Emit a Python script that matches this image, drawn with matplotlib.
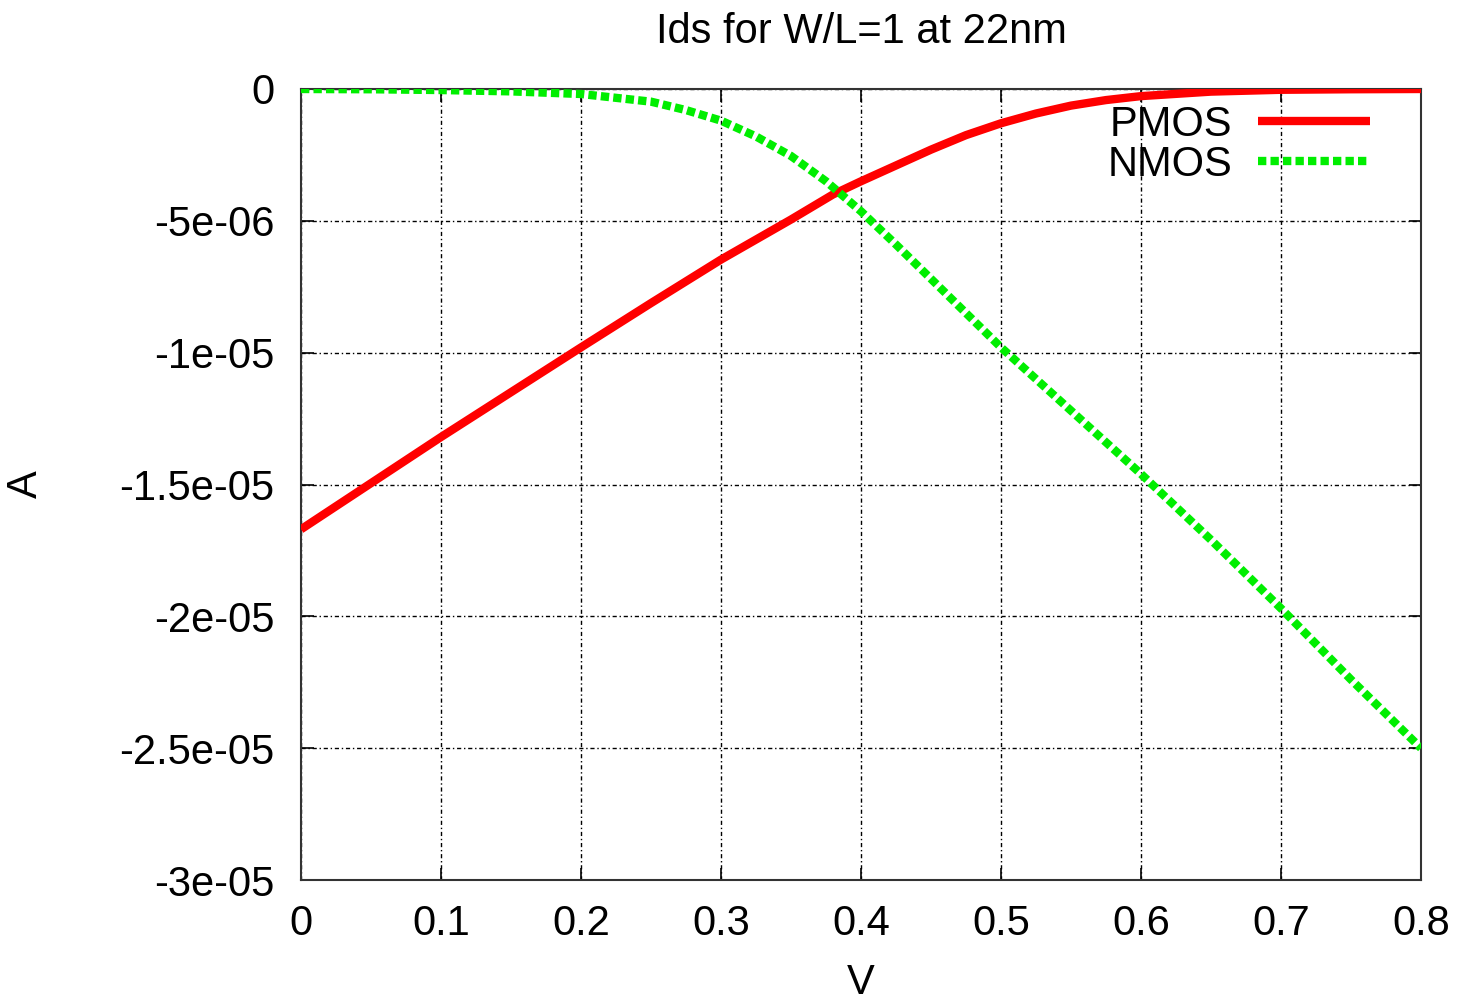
import numpy as np
import matplotlib.pyplot as plt

# values (V, amps)
v_pmos = [0.0, 0.05, 0.1, 0.15, 0.2, 0.25, 0.3, 0.35, 0.38, 0.4, 0.425, 0.45, 0.475,
          0.5, 0.525, 0.55, 0.575, 0.6, 0.65, 0.7, 0.75, 0.8]
i_pmos = [-16.7e-6, -14.95e-6, -13.2e-6, -11.5e-6, -9.8e-6, -8.12e-6, -6.47e-6, -4.95e-6,
          -4.0e-6, -3.5e-6, -2.9e-6, -2.3e-6, -1.75e-6, -1.3e-6, -0.93e-6, -0.63e-6,
          -0.42e-6, -0.27e-6, -0.1e-6, -0.03e-6, -0.01e-6, 0.0]

v_nmos = [0.0, 0.05, 0.1, 0.15, 0.2, 0.25, 0.275, 0.3, 0.325, 0.35, 0.375, 0.4, 0.425,
          0.45, 0.5, 0.55, 0.6, 0.65, 0.7, 0.75, 0.8]
i_nmos = [0.0, -0.01e-6, -0.04e-6, -0.09e-6, -0.19e-6, -0.48e-6, -0.8e-6, -1.2e-6,
          -1.8e-6, -2.54e-6, -3.5e-6, -4.64e-6, -5.9e-6, -7.2e-6, -9.8e-6, -12.2e-6,
          -14.6e-6, -17.1e-6, -19.7e-6, -22.4e-6, -25.0e-6]

x_ticks = [0, 0.1, 0.2, 0.3, 0.4, 0.5, 0.6, 0.7, 0.8]
x_labels = ["0", "0.1", "0.2", "0.3", "0.4", "0.5", "0.6", "0.7", "0.8"]
y_ticks = [0, -5e-6, -1e-5, -1.5e-5, -2e-5, -2.5e-5, -3e-5]
y_labels = ["0", "-5e-06", "-1e-05", "-1.5e-05", "-2e-05", "-2.5e-05", "-3e-05"]

plt.rcParams['font.family'] = ['Liberation Sans', 'DejaVu Sans']

fig = plt.figure(figsize=(14.62, 10.02), dpi=100)
ax = fig.add_axes([301 / 1462, 1 - 880 / 1002, 1120 / 1462, 791 / 1002])

ax.plot(v_pmos, i_pmos, color='#ff0000', lw=6, label='PMOS', solid_capstyle='butt', zorder=3)
ax.plot(v_nmos, i_nmos, color='#00ee00', lw=6, label='NMOS',
        linestyle=(0, (1, 0.5)), dash_capstyle='butt', zorder=4)

ax.set_xlim(0, 0.8)
ax.set_ylim(-3e-5, 0)
ax.set_xticks(x_ticks)
ax.set_xticklabels(x_labels)
ax.set_yticks(y_ticks)
ax.set_yticklabels(y_labels)

ax.grid(True, color='black', lw=1, linestyle=(0, (3, 2, 1, 2)))
ax.tick_params(direction='in', top=True, right=True, length=9, width=1.2,
               labelsize=30)
ax.tick_params(axis='x', pad=17)
ax.tick_params(axis='y', pad=19)
for s in ax.spines.values():
    s.set_linewidth(1.5)
    s.set_color('#333333')

ax.set_title("Ids for W/L=1 at 22nm", fontsize=30, pad=33)
ax.set_xlabel("V", fontsize=30, labelpad=14)
ax.set_ylabel("A", fontsize=30)
ax.yaxis.set_label_coords(-0.228, 0.5)

ax.legend(loc='upper right', bbox_to_anchor=(1370 / 1462, 1 - 105 / 1002),
          bbox_transform=fig.transFigure, frameon=False, markerfirst=False,
          fontsize=30, handlelength=2.7, handletextpad=0.6, labelspacing=0.0,
          borderaxespad=0, borderpad=0)

plt.savefig('out.png', dpi=100)
